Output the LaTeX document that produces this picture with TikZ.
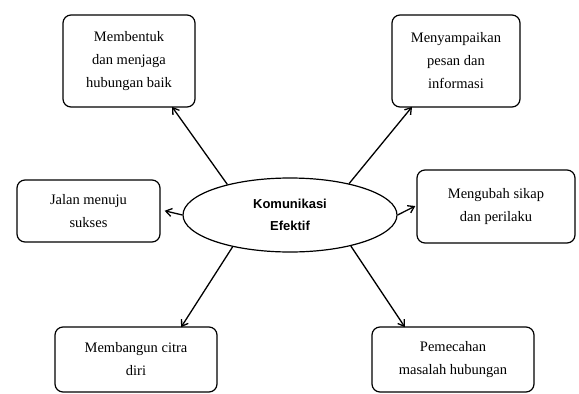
\documentclass[tikz,border=0pt]{standalone}
\usepackage{fontspec}
\setmainfont{Liberation Serif}
\setsansfont{Liberation Sans}
\usetikzlibrary{shapes.geometric,arrows.meta,calc}
\begin{document}
\begin{tikzpicture}[x=1pt,y=-1pt,
  box/.style={draw,line width=1.2pt,rounded corners=8pt,align=center,inner sep=0pt,
    font=\fontsize{14.5}{23}\selectfont},
  arr/.style={line width=1.3pt,-{Straight Barb[length=6pt,width=8pt]},shorten >=-1pt}]
\useasboundingbox (0,0) rectangle (579,394);
\node[box,minimum width=132pt,minimum height=92pt] (tl) at (129,61) {Membentuk\\dan menjaga\\hubungan baik};
\node[box,minimum width=128pt,minimum height=92pt] (tr) at (456,61) {Menyampaikan\\pesan dan\\informasi};
\node[box,minimum width=143pt,minimum height=62pt] (jl) at (88.5,211) {Jalan menuju\\sukses};
\node[box,minimum width=158pt,minimum height=73pt] (mg) at (496,206.5) {Mengubah sikap\\dan perilaku};
\node[box,minimum width=162pt,minimum height=65pt] (bl) at (136,359.5) {Membangun citra\\diri};
\node[box,minimum width=162pt,minimum height=65pt] (br) at (453,359.5) {Pemecahan\\masalah hubungan};
\node[draw,ellipse,line width=1.2pt,minimum width=214pt,minimum height=74pt,inner sep=0pt,align=center,
  font=\sffamily\bfseries\fontsize{13}{22}\selectfont] (e) at (290,215) {Komunikasi\\Efektif};
\draw[arr] (e.154) -- ([xshift=-23pt]tl.south east);
\draw[arr] (e.28) -- ([xshift=20pt]tr.south west);
\draw[arr] (e.west) -- ([xshift=5pt]jl.east);
\draw[arr] (e.east) -- ([xshift=-2pt]mg.west);
\draw[arr] (e.209) -- ([xshift=-36pt]bl.north east);
\draw[arr] (e.333) -- ([xshift=33pt]br.north west);
\end{tikzpicture}
\end{document}
